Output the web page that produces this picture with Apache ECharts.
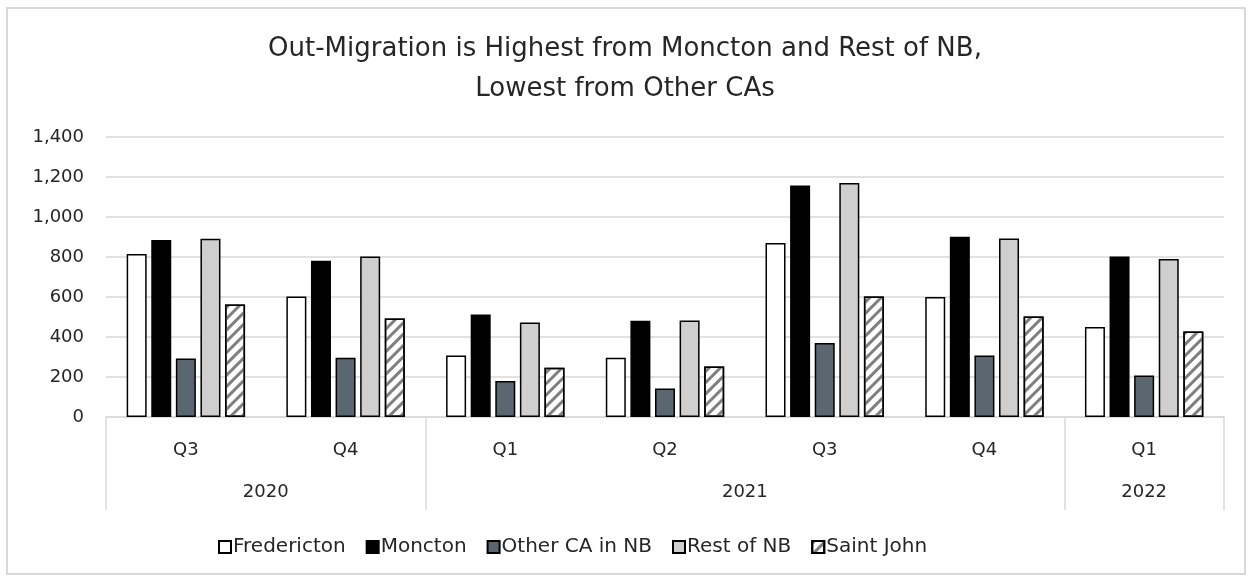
<!DOCTYPE html>
<html>
<head>
<meta charset="utf-8">
<script src="https://cdn.jsdelivr.net/npm/echarts@6/dist/echarts.min.js"></script>
<style>
  html, body { margin: 0; padding: 0; background: #fff; }
  #chart { position: absolute; left: 0; top: 0; width: 1250px; height: 580px; }
  #frame {
    position: absolute; left: 6px; top: 7px; width: 1240px; height: 568px;
    box-sizing: border-box; border: 2px solid #d9d9d9; pointer-events: none;
  }
</style>
</head>
<body>
<div id="chart"></div>
<div id="frame"></div>
<script>
const quarters = ['Q3', 'Q4', 'Q1', 'Q2', 'Q3', 'Q4', 'Q1']
const years = ['2020', '2021', '2022']
const yearSpans = [2, 4, 1]

const fredericton = [815, 603, 307, 296, 870, 600, 450]
const moncton = [885, 781, 513, 481, 1157, 901, 803]
const otherCA = [293, 296, 180, 143, 370, 307, 207]
const restNB = [891, 803, 473, 483, 1170, 893, 790]
const saintJohn = [563, 493, 246, 253, 603, 503, 428]

const font = 'DejaVu Sans'
const textColor = '#262626'
const gridColor = '#d9d9d9'

// year boundaries and label centers on a 0..n value axis
const yearEdges = [0]
const yearCenters = []
yearSpans.forEach((span) => {
  const start = yearEdges[yearEdges.length - 1]
  yearCenters.push(start + span / 2)
  yearEdges.push(start + span)
})

function bar(name, data, style) {
  return {
    name,
    type: 'bar',
    data,
    barWidth: 20,
    barGap: '23%',
    xAxisIndex: 0,
    itemStyle: Object.assign({ borderColor: '#000', borderWidth: 1.5 }, style)
  }
}

const chart = echarts.init(document.getElementById('chart'))

chart.setOption({
  animation: false,
  textStyle: { fontFamily: font },
  title: {
    text: 'Out-Migration is Highest from Moncton and Rest of NB,\nLowest from Other CAs',
    left: 'center',
    top: 24,
    textStyle: {
      fontFamily: font,
      fontSize: 26,
      fontWeight: 'normal',
      color: textColor,
      lineHeight: 40
    }
  },
  legend: {
    bottom: 18,
    left: 213,
    icon: 'rect',
    itemWidth: 12,
    itemHeight: 12,
    itemGap: 20,
    textStyle: { fontFamily: font, fontSize: 20, color: textColor, padding: [0, 0, 0, -3] },
    data: ['Fredericton', 'Moncton', 'Other CA in NB', 'Rest of NB', 'Saint John']
  },
  grid: { left: 106, right: 26, top: 137, bottom: 163 },
  xAxis: [
    {
      type: 'category',
      data: quarters,
      axisLine: { show: true, lineStyle: { color: gridColor, width: 1.5 } },
      axisTick: { show: false },
      axisLabel: { fontFamily: font, fontSize: 18, color: textColor, margin: 24 }
    },
    {
      type: 'value',
      position: 'bottom',
      min: 0,
      max: quarters.length,
      axisLine: { show: false },
      splitLine: { show: false },
      axisTick: {
        show: true,
        customValues: yearEdges,
        length: 93,
        lineStyle: { color: gridColor, width: 1.5 }
      },
      axisLabel: {
        customValues: yearCenters,
        formatter: (v) => years[yearCenters.indexOf(v)] || '',
        fontFamily: font,
        fontSize: 18,
        color: textColor,
        margin: 66
      }
    }
  ],
  yAxis: {
    type: 'value',
    min: 0,
    max: 1400,
    interval: 200,
    axisLine: { show: false },
    axisTick: { show: false },
    splitLine: { lineStyle: { color: gridColor, width: 1.5 } },
    axisLabel: {
      fontFamily: font,
      fontSize: 18,
      color: textColor,
      margin: 22,
      formatter: (v) => v.toLocaleString('en-US')
    }
  },
  series: [
    bar('Fredericton', fredericton, { color: '#ffffff' }),
    bar('Moncton', moncton, { color: '#000000' }),
    bar('Other CA in NB', otherCA, { color: '#5b6770' }),
    bar('Rest of NB', restNB, { color: '#d0cece' }),
    bar('Saint John', saintJohn, {
      color: '#ffffff',
      decal: {
        symbol: 'rect',
        symbolSize: 1,
        color: '#7f7f7f',
        dashArrayX: [1, 0],
        dashArrayY: [3, 5],
        rotation: -Math.PI / 4
      }
    })
  ]
})
</script>
</body>
</html>
